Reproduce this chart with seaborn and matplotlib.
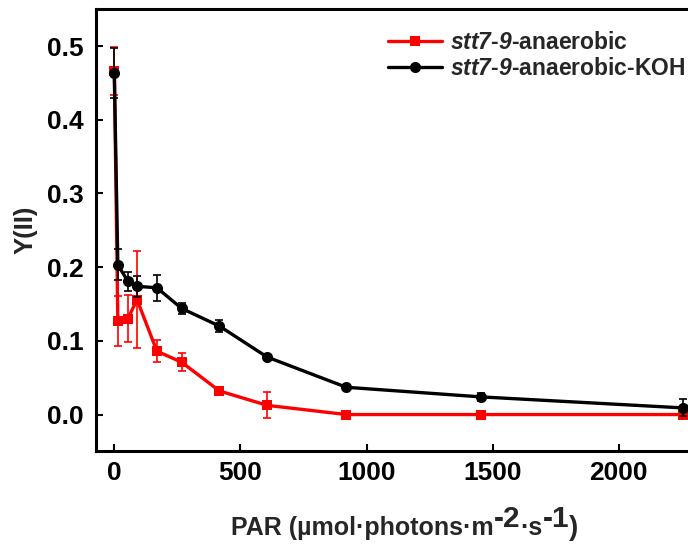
import numpy as np
import pandas as pd
import matplotlib
matplotlib.use("Agg")
import matplotlib.pyplot as plt
from matplotlib.transforms import IdentityTransform
import seaborn as sns

# Effective quantum yield of PSII along a light curve
par = [0, 14, 54, 90, 169, 267, 417, 606, 920, 1452, 2256]
y_anaerobic = [0.466, 0.127, 0.130, 0.156, 0.086, 0.071, 0.032, 0.0125, 0.0, 0.0, 0.0]
sd_anaerobic = [0.033, 0.034, 0.032, 0.066, 0.0145, 0.0125, 0.003, 0.0175, 0.0015, 0.0015, 0.0015]
y_koh = [0.463, 0.203, 0.181, 0.174, 0.172, 0.144, 0.120, 0.078, 0.037, 0.024, 0.009]
sd_koh = [0.034, 0.021, 0.013, 0.014, 0.018, 0.0075, 0.0085, 0.003, 0.002, 0.005, 0.0115]
series = ["stt7-9-anaerobic", "stt7-9-anaerobic-KOH"]
legend_labels = [r"$\mathrm{stt7}$-$\mathrm{9}$-anaerobic",
                 r"$\mathrm{stt7}$-$\mathrm{9}$-anaerobic-KOH"]
x_ticks = [0, 500, 1000, 1500, 2000]
y_ticks = [0.0, 0.1, 0.2, 0.3, 0.4, 0.5]

sns.set_theme(style="ticks")
plt.rcParams.update({
    "font.family": ["Liberation Sans", "DejaVu Sans"],
    "font.weight": "bold",
    "font.style": "normal",
    "axes.labelweight": "bold",
    "mathtext.fontset": "custom",
    "mathtext.rm": "Liberation Sans:italic:bold",
    "mathtext.it": "Liberation Sans:italic:bold",
    "mathtext.bf": "Liberation Sans:bold",
})

W, H = 688, 554
fig = plt.figure(figsize=(W / 100, H / 100), dpi=100)
x0, x1 = -72.6, 2397.6
px_per_unit = 0.2522
left_px, top_px, bot_px = 96, 9.2, 451.4
ax = fig.add_axes([left_px / W, 1 - bot_px / H,
                   (x1 - x0) * px_per_unit / W, (bot_px - top_px) / H])

df = pd.DataFrame({
    "PAR": par + par,
    "Y(II)": y_anaerobic + y_koh,
    "sample": [series[0]] * len(par) + [series[1]] * len(par),
})

colors = {series[0]: "#ff0000", series[1]: "#000000"}
markers = {series[0]: "s", series[1]: "o"}
msizes = {series[0]: 7.4, series[1]: 8.0}
sds = {series[0]: sd_anaerobic, series[1]: sd_koh}

handles = []
for i, name in enumerate(series):
    sub = df[df["sample"] == name]
    ax.errorbar(sub["PAR"], sub["Y(II)"], yerr=sds[name], fmt="none",
                ecolor=colors[name], elinewidth=1.2, capsize=3, capthick=1.2,
                zorder=3 + 2 * i)
    sns.lineplot(data=sub, x="PAR", y="Y(II)", color=colors[name],
                 marker=markers[name], markersize=msizes[name],
                 markeredgewidth=0, linewidth=2.4, estimator=None, sort=False,
                 ax=ax, zorder=4 + 2 * i, legend=False)
    handles.append(ax.lines[-1])

ax.set_xlim(x0, x1)
ax.set_ylim(-0.05, 0.55)
ax.set_xticks(x_ticks)
ax.set_yticks(y_ticks)
ax.set_yticklabels([f"{v:.1f}" for v in y_ticks])
ax.set_xlabel("")
ax.set_ylabel("Y(II)", fontsize=18.5, fontweight="bold", fontstyle="normal",
              family="Liberation Sans")
ax.yaxis.label.set_rotation_mode("default")
ax.yaxis.label.set_ha("center")
ax.yaxis.label.set_va("center")
ax.yaxis.set_label_coords((26 - left_px) / ((x1 - x0) * px_per_unit), 0.5)

ax.tick_params(axis="both", direction="in", length=5, width=1.5,
               labelsize=19, color="black", labelcolor="black")
ax.tick_params(axis="y", pad=9)
ax.tick_params(axis="x", pad=7)
ax.tick_params(top=False, right=False)
for sp in ax.spines.values():
    sp.set_linewidth(2.2)
    sp.set_color("black")

ax.legend(handles, legend_labels, loc="upper left",
          bbox_to_anchor=(388 / W, 1 - 31 / H), bbox_transform=fig.transFigure,
          frameon=False, borderpad=0, borderaxespad=0, handlelength=2.35,
          handletextpad=0.35, labelspacing=0.15,
          prop={"size": 16.5, "weight": "bold"})

# x-axis title with enlarged exponents
renderer = fig.canvas.get_renderer()
pieces = [("PAR (µmol·photons·m", 18, 0), ("-2", 21.5, 8), ("·s", 18, 0),
          ("-1", 21.5, 8), (")", 20, 0)]
texts = []
for s, size, rise in pieces:
    t = fig.text(0, 0, s, fontsize=size, fontweight="bold", ha="left",
                 va="baseline", transform=IdentityTransform())
    texts.append((t, rise))
widths = [t.get_window_extent(renderer).width for t, _ in texts]
cx, base_y = 405, H - 535
xx = cx - sum(widths) / 2
for (t, rise), w in zip(texts, widths):
    t.set_position((xx, base_y + rise))
    xx += w

fig.savefig("out.png", dpi=100)
